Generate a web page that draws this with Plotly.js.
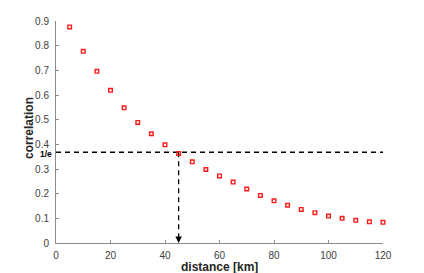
<!DOCTYPE html>
<html>
<head>
<meta charset="utf-8">
<script src="https://cdn.plot.ly/plotly-3.0.1.min.js"></script>
<style>html,body{margin:0;padding:0;background:#fff;}#chart{width:424px;height:273px;}</style>
</head>
<body>
<div id="chart"></div>
<script>
// Data
const distanceKm = [5,10,15,20,25,30,35,40,45,50,55,60,65,70,75,80,85,90,95,100,105,110,115,120];
const correlation = [0.876,0.777,0.696,0.619,0.548,0.489,0.443,0.398,0.363,0.329,0.298,0.272,0.247,0.219,0.193,0.171,0.153,0.136,0.123,0.109,0.100,0.092,0.086,0.084];
const xTicks = [0,20,40,60,80,100,120];
const yTicks = [0,0.1,0.2,0.3,0.4,0.5,0.6,0.7,0.8,0.9];
const threshold = 1/Math.E;      // 1/e level
const thresholdDistance = 45;    // distance where correlation reaches 1/e
const xMin = 0, xMax = 120, yMin = 0, yMax = 0.9;

const dashStyle = {color:'#000', width:1.3, dash:'5px,4px'};

const traces = [
  {x:[xMin, xMax], y:[threshold, threshold], mode:'lines', line:dashStyle, hoverinfo:'skip', showlegend:false},
  {x:[thresholdDistance, thresholdDistance], y:[threshold, yMin + 0.012], mode:'lines', line:dashStyle, hoverinfo:'skip', showlegend:false},
  {x:distanceKm, y:correlation, mode:'markers', type:'scatter', showlegend:false,
   marker:{symbol:'square-open', size:3.6, color:'#ff1a1a', line:{width:1.4, color:'#ff1a1a'}}, cliponaxis:false}
];

const fontFam = 'Liberation Sans, Arial, sans-serif';
const axisCommon = {
  showgrid:false, zeroline:false, showline:true, linecolor:'#8c8c8c', linewidth:1,
  ticks:'inside', ticklen:3, tickcolor:'#8c8c8c', tickwidth:1,
  tickfont:{family:fontFam, size:10, color:'#404040'},
  mirror:false
};

const layout = {
  width:424, height:273,
  margin:{l:56, r:41, t:20.7, b:30, pad:0},
  paper_bgcolor:'#fff', plot_bgcolor:'#fff',
  xaxis:Object.assign({}, axisCommon, {range:[xMin,xMax], tickvals:xTicks, ticktext:xTicks.map(String),
    ticklabelstandoff:3}),
  yaxis:Object.assign({}, axisCommon, {range:[yMin,yMax], tickvals:yTicks, ticktext:yTicks.map(v=>String(v)),
    ticklabelstandoff:4}),
  annotations:[
    {x:0, y:0.5, xref:'paper', yref:'paper', xanchor:'center', yanchor:'middle', xshift:-27, yshift:4, textangle:-90,
     text:'<b>correlation</b>', showarrow:false, borderpad:0, font:{family:fontFam, size:12, color:'#262626'}},
    {x:0.5, y:0, xref:'paper', yref:'paper', xanchor:'center', yanchor:'middle', yshift:-23.5, borderpad:0,
     text:'<b>distance [km]</b>', showarrow:false, font:{family:fontFam, size:12, color:'#262626'}},
    {x:thresholdDistance, y:yMin, xref:'x', yref:'y', ax:0, ay:-7, axref:'pixel', ayref:'pixel',
     showarrow:true, arrowhead:2, arrowsize:1, arrowwidth:1.3, arrowcolor:'#000', standoff:0, text:''},
    {x:0, y:threshold, xref:'paper', yref:'y', xanchor:'right', yanchor:'middle', xshift:-3, yshift:-2, borderpad:0,
     text:'<b>1/e</b>', showarrow:false, font:{family:fontFam, size:8.5, color:'#000'}}
  ]
};

Plotly.newPlot('chart', traces, layout, {staticPlot:true, displayModeBar:false});
</script>
</body>
</html>
